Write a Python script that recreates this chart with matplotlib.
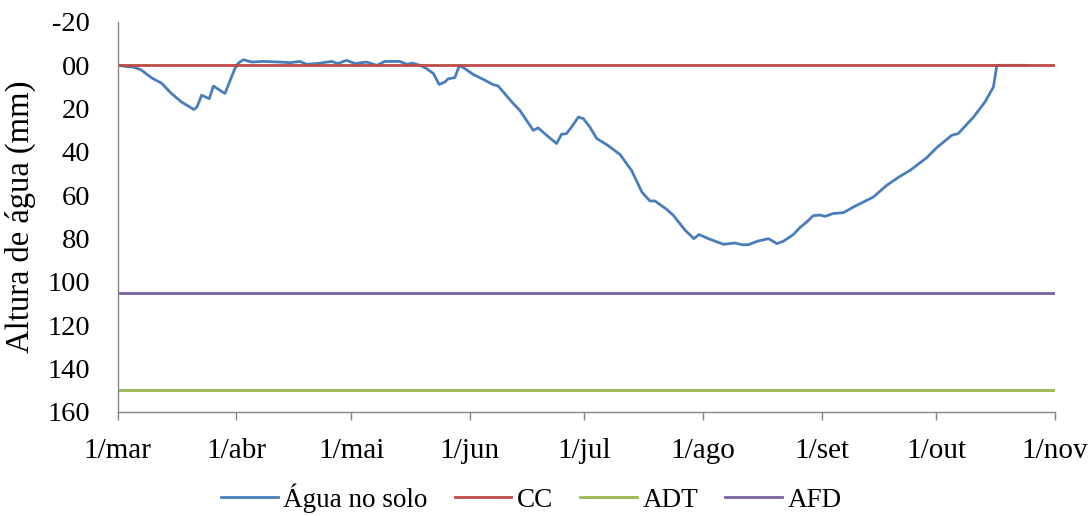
import matplotlib
matplotlib.use("Agg")
import matplotlib.pyplot as plt
from matplotlib.ticker import FormatStrFormatter
import numpy as np

# days after 1 March, water height (mm)
dias = [0, 2, 4, 6, 9, 11.4, 14, 16.7, 19.9, 20.7, 21.9, 23.9, 25, 28, 30.6, 31.5,
        32.8, 35, 38, 42.4, 45, 47.6, 49.3, 52, 55.9, 57.5, 59.8, 62, 65, 67.7,
        69.8, 73.7, 75.5, 77, 79, 80.7, 82.5, 84, 85.5, 86.4, 88.1, 89.3, 90.7,
        92.9, 96, 98.1, 99.4, 103, 105.1, 108.6, 109.9, 112.1, 114.7, 116, 117.3,
        118.6, 120.4, 121.7, 123.4, 125.2, 127.8, 129.5, 131.3, 134.3, 137, 139.1,
        140.4, 143.5, 145.2, 148.3, 150.6, 151.9, 154.8, 158.3, 161.4, 163.1,
        164.8, 167.4, 170.1, 172.3, 174, 176.6, 178.3, 180.1, 181.8, 183.6, 184.9,
        187, 189.7, 192.3, 197.5, 201, 204.5, 207.1, 211.5, 214.1, 218, 219.7,
        223.7, 226.7, 228.9, 229.8, 237.6]
agua = [0, 0.5, 0.8, 2, 6, 8.2, 13, 17, 20.4, 19.2, 13.8, 15.4, 9.6, 13, 1.5, -1,
        -2.6, -1.5, -1.8, -1.5, -1.2, -1.8, -0.5, -0.8, -1.8, -0.8, -2.3, -0.8, -1.5, 0,
        -1.8, -1.8, -0.5, -1, 0, 1.5, 3.8, 8.8, 7.7, 6.2, 5.7, 0, 1.5,
        4.2, 6.9, 8.9, 9.5, 16.9, 20.8, 30, 28.9, 32.3, 36.1, 31.8, 31.5,
        28.5, 23.9, 24.6, 28.5, 33.8, 36.6, 38.8, 41.2, 48.5, 58.5, 62.6,
        62.6, 66.5, 69.2, 76.1, 80, 78.1, 80.3, 82.6, 82, 82.8,
        82.8, 81.1, 80, 82.3, 81.2, 78.1, 74.9, 72.3, 69.4, 69.1, 69.7,
        68.4, 68, 65.4, 60.8, 55.4, 51.2, 48.5, 42.6, 38, 32.3, 31.5,
        23.9, 16.9, 10, 0, 0]

cc = 0
adt = 150
afd = 105

meses = ["1/mar", "1/abr", "1/mai", "1/jun", "1/jul", "1/ago", "1/set", "1/out", "1/nov"]
inicio_mes = [0, 31, 61, 92, 122, 153, 184, 214, 245]

plt.rcParams['font.family'] = ['Liberation Serif', 'DejaVu Serif']

fig = plt.figure(figsize=(10.91, 5.16), dpi=100)
ax = fig.add_axes([0.108, 0.2016, 0.859, 0.7558])

ax.plot(dias, agua, color='#4A7EBB', lw=2.0, label='Água no solo')
ax.plot([0, 245], [cc, cc], color='#BE4B48', lw=2.0, label='CC')
ax.plot([0, 245], [adt, adt], color='#98B954', lw=2.0, label='ADT')
ax.plot([0, 245], [afd, afd], color='#7D60A0', lw=2.0, label='AFD')

ax.set_xlim(0, 245)
ax.set_ylim(160, -20)
ax.set_yticks(np.arange(-20, 161, 20))
ax.yaxis.set_major_formatter(FormatStrFormatter('%02d'))
ax.set_xticks(inicio_mes)
ax.set_xticklabels(meses)

for s in ['top', 'right']:
    ax.spines[s].set_visible(False)
for s in ['left', 'bottom']:
    ax.spines[s].set_color('#868686')
    ax.spines[s].set_linewidth(1.0)

ax.tick_params(axis='y', length=0, pad=20, labelsize=20.5)
ax.tick_params(axis='x', length=6, width=1, color='#868686', pad=13, labelsize=21, direction='out')

ax.set_ylabel('Altura de água (mm)', fontsize=23.5, labelpad=8)

fig.legend(loc='center', bbox_to_anchor=(0.487, 0.035), ncol=4, frameon=False,
           fontsize=19.5, handlelength=2.1, handletextpad=0.2, columnspacing=1.0)

fig.savefig('out.png', dpi=100)
